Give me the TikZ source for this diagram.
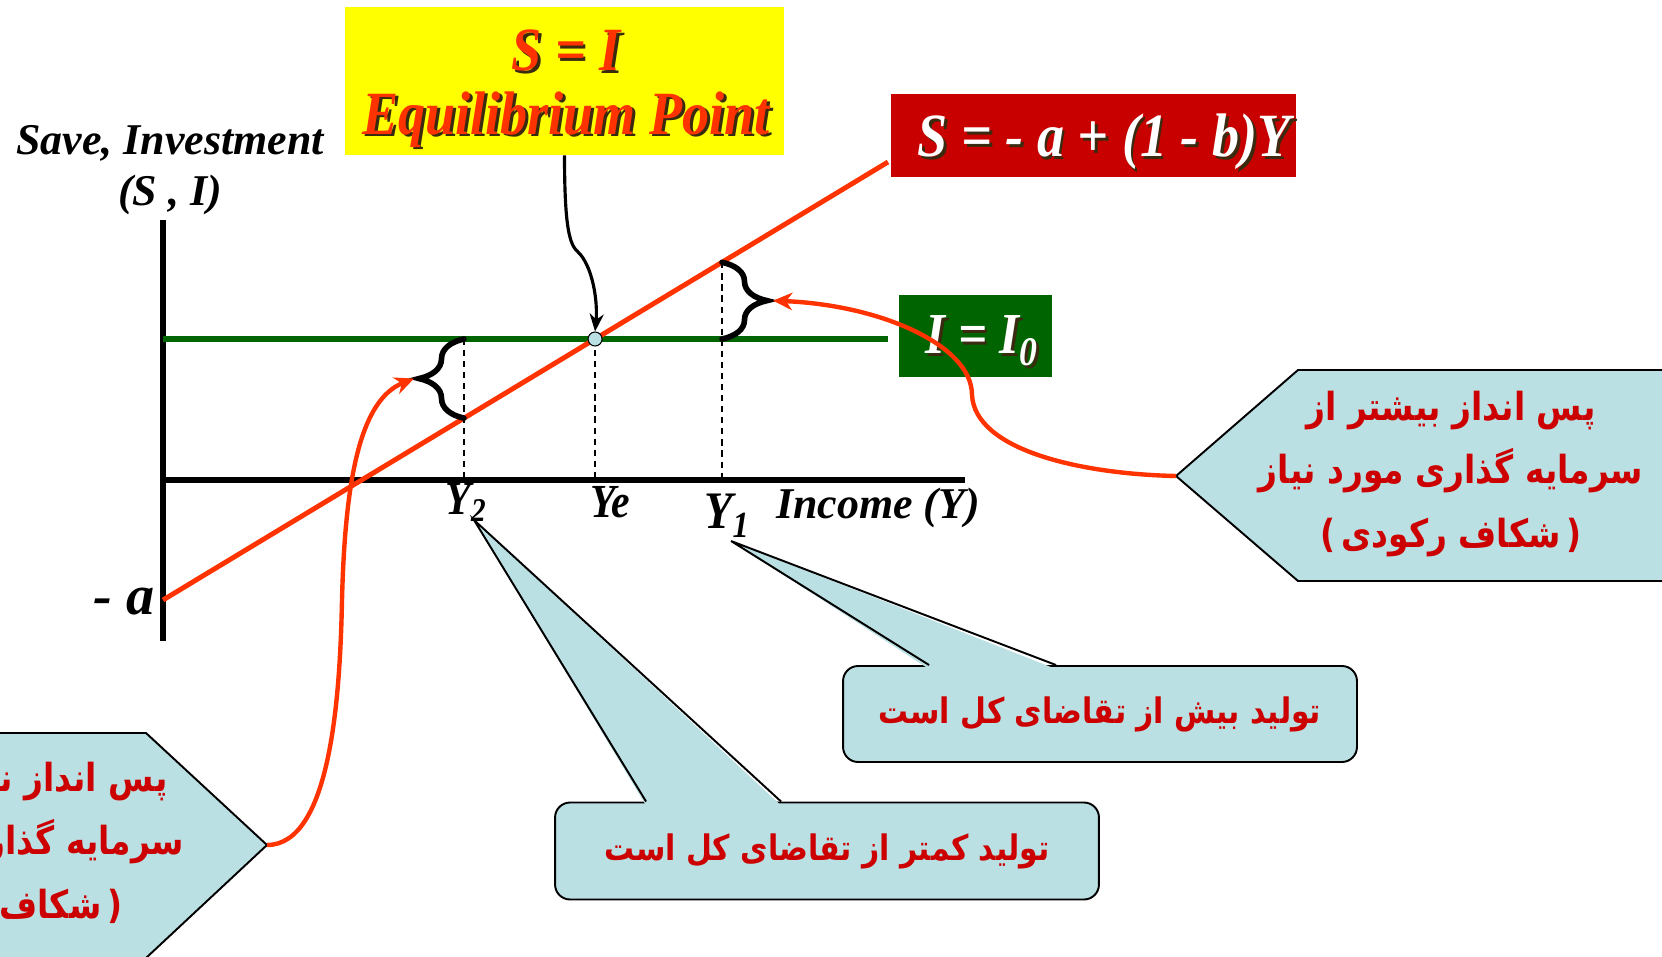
\documentclass[tikz,border=0pt]{standalone}
\usepackage{fontspec}
\setmainfont{Liberation Serif}
\newfontfamily\condserif[FakeStretch=0.88]{Liberation Serif}
\newfontfamily\farsi[Script=Arabic,FakeStretch=0.85]{DejaVu Sans}
\TeXXeTstate=1
\usetikzlibrary{arrows.meta,decorations.pathreplacing,calc}
\definecolor{ink}{HTML}{000000}
\definecolor{flame}{HTML}{FF3300}
\definecolor{lemon}{HTML}{FFFF00}
\definecolor{crimson}{HTML}{C80000}
\definecolor{forest}{HTML}{006400}
\definecolor{pale}{HTML}{BBE0E3}
\definecolor{farsired}{HTML}{CC0000}
\definecolor{shade}{HTML}{3A2A10}
\newcommand{\shadowed}[2]{\leavevmode\rlap{\kern1.6pt\raisebox{-1.6pt}{\color{shade}#2}}{\color{#1}#2}}

\begin{document}
\begin{tikzpicture}[x=0.02cm,y=-0.02cm,
  axis/.style={line width=3pt},
  sline/.style={flame,line width=2.8pt},
  iline/.style={forest,line width=3pt},
  guide/.style={dash pattern=on 3.5pt off 2.8pt,line width=0.8pt},
  gapbrace/.style={decorate,decoration={brace,amplitude=0.9cm},line width=3.2pt,line cap=round},
  pointer/.style={flame,line width=2.5pt,-{Stealth[length=11pt,width=10pt]}},
  axlabel/.style={font=\fontsize{25}{29}\selectfont\bfseries\itshape},
  ylabel/.style={font=\fontsize{27}{30}\condserif\bfseries\itshape},
  tagbox/.style={inner sep=0pt,font=\fontsize{35}{36}\condserif\bfseries\itshape},
  hexbox/.style={draw=ink,fill=pale,line width=1.1pt},
  bubble/.style={draw=ink,fill=pale,line width=1.1pt,rounded corners=0.3cm,inner sep=0pt},
  farsitext/.style={text=farsired,align=center,font=\fontsize{22}{36}\farsi\bfseries}]
  \useasboundingbox (0,0) rectangle (1662,956);
  \clip (0,0) rectangle (1662,956);

  % gap callouts
  \coordinate (gapRtip) at (1176,476);
  \coordinate (gapLtip) at (267,845);
  \draw[hexbox] (gapRtip) -- (1298,370) -- (1720,370) -- (1720,581) -- (1298,581) -- cycle;
  \draw[hexbox] (gapLtip) -- (146,733) -- (-60,733) -- (-60,958) -- (146,958) -- cycle;
  \node[farsitext] (gapR) at (1451,474) {\beginR پس انداز بیشتر از\endR\\
    \beginR سرمایه گذاری مورد نیاز\endR\\ )\,\beginR شکاف رکودی\endR\,(};
  \node[farsitext] (gapL) at (-8,845) {\beginR پس انداز ناکافی برای\endR\\
    \beginR سرمایه گذاری مورد نیاز\endR\\ )\,\beginR شکاف تورمی\endR\,(};

  % output callouts
  \node[bubble,farsitext,font=\fontsize{20}{36}\farsi\bfseries,minimum width=10.28cm,minimum height=1.92cm] (over) at (1100,714)
    {\beginR تولید بیش از تقاضای کل است\endR};
  \node[bubble,farsitext,font=\fontsize{20}{36}\farsi\bfseries,minimum width=10.88cm,minimum height=1.94cm] (under) at (827,851)
    {\beginR تولید کمتر از تقاضای کل است\endR};
  \coordinate (y1tip) at (731,541);
  \coordinate (y2tip) at (474,520);
  \fill[pale] ($(over.north west)+(87,4)$) -- (y1tip) -- ($(over.north west)+(214,4)$) -- cycle;
  \draw[line width=1.1pt] ($(over.north west)+(87,0)$) -- (y1tip) -- ($(over.north west)+(214,0)$);
  \fill[pale] ($(under.north west)+(92,4)$) -- (y2tip) -- ($(under.north west)+(227,4)$) -- cycle;
  \draw[line width=1.1pt] ($(under.north west)+(92,0)$) -- (y2tip) -- ($(under.north west)+(227,0)$);

  % axes and schedules
  \coordinate (origin) at (163,480);
  \coordinate (ileft) at (163,339);
  \coordinate (iright) at (888,339);
  \coordinate (sleft) at (163,600);
  \coordinate (sright) at (888,162);
  \draw[axis] (163,220) -- (163,641);
  \draw[axis] (origin) -- (965,480);
  \draw[iline] (ileft) -- (iright);
  \draw[sline] (sleft) -- (sright);
  \coordinate (E) at (intersection of ileft--iright and sleft--sright);
  \coordinate (s2) at ($(sleft)!{(464-163)/725}!(sright)$);
  \coordinate (s1) at ($(sleft)!{(722-163)/725}!(sright)$);
  \coordinate (i2) at (464,339);
  \coordinate (i1) at (722,339);
  \foreach \p in {i2,E,s1}
    \draw[guide] (\p) -- (\p |- origin);
  \draw[gapbrace] (s2) -- (i2);
  \draw[gapbrace] (s1) -- (i1);
  \coordinate (arr2) at ($(s2)!0.5!(i2)+(-50,0)$);
  \coordinate (arr1) at ($(s1)!0.5!(i1)+(51,0)$);

  % labels
  \node[axlabel,align=center] (yaxis) at (170,170) {Save, Investment\\(S , I)};
  \node[axlabel,font=\fontsize{32}{36}\selectfont\bfseries\itshape] (mina) at (124,602) {- a};
  \node[ylabel] (ly2) at (466,502) {Y\textsubscript{2}};
  \node[ylabel] (lye) at (610,502) {Ye};
  \node[ylabel,font=\fontsize{30}{32}\condserif\bfseries\itshape] (ly1) at (727,516) {Y\textsubscript{1}};
  \node[axlabel] (linc) at (878,508) {Income (Y)};

  % boxes
  \node[fill=lemon,minimum width=8.78cm,minimum height=2.96cm] (eq) at (564.5,81) {};
  \node[tagbox,align=center] (eqtext) at (566,90)
    {\shadowed{flame}{S = I}\\\shadowed{flame}{Equilibrium Point}};
  \node[tagbox,fill=crimson,minimum width=8.1cm,minimum height=1.66cm] (sfun) at (1093.5,135.5) {};
  \node[tagbox] (sfuntext) at (1104,143) {\shadowed{white}{S = - a + (1 - b)Y}};
  \node[tagbox,fill=forest,minimum width=3.06cm,minimum height=1.64cm] (ifun) at (975.5,336) {};
  \node[tagbox,font=\fontsize{33}{36}\condserif\bfseries\itshape] (ifuntext) at (982,342)
    {\shadowed{white}{I = I\textsubscript{0}}};

  % pointers
  \draw[pointer] (gapRtip) .. controls (1080,474) and (975,450) .. (972,395)
    .. controls (972,345) and (880,305) .. (arr1);
  \draw[pointer] (gapLtip) .. controls (330,845) and (340,700) .. (342,600)
    .. controls (345,480) and (360,400) .. (arr2);
  \node[circle,draw=ink,fill=pale,line width=0.6pt,minimum size=0.28cm,inner sep=0pt] (eqdot) at (E) {};
  \coordinate (kink) at (578,252);
  \draw[line width=1.8pt,-{Stealth[length=10pt,width=8pt]}] (eq.south) .. controls +(0,75) and (570,245) .. (kink)
    .. controls (592,265) and (598,300) .. (eqdot.north);
\end{tikzpicture}
\end{document}
